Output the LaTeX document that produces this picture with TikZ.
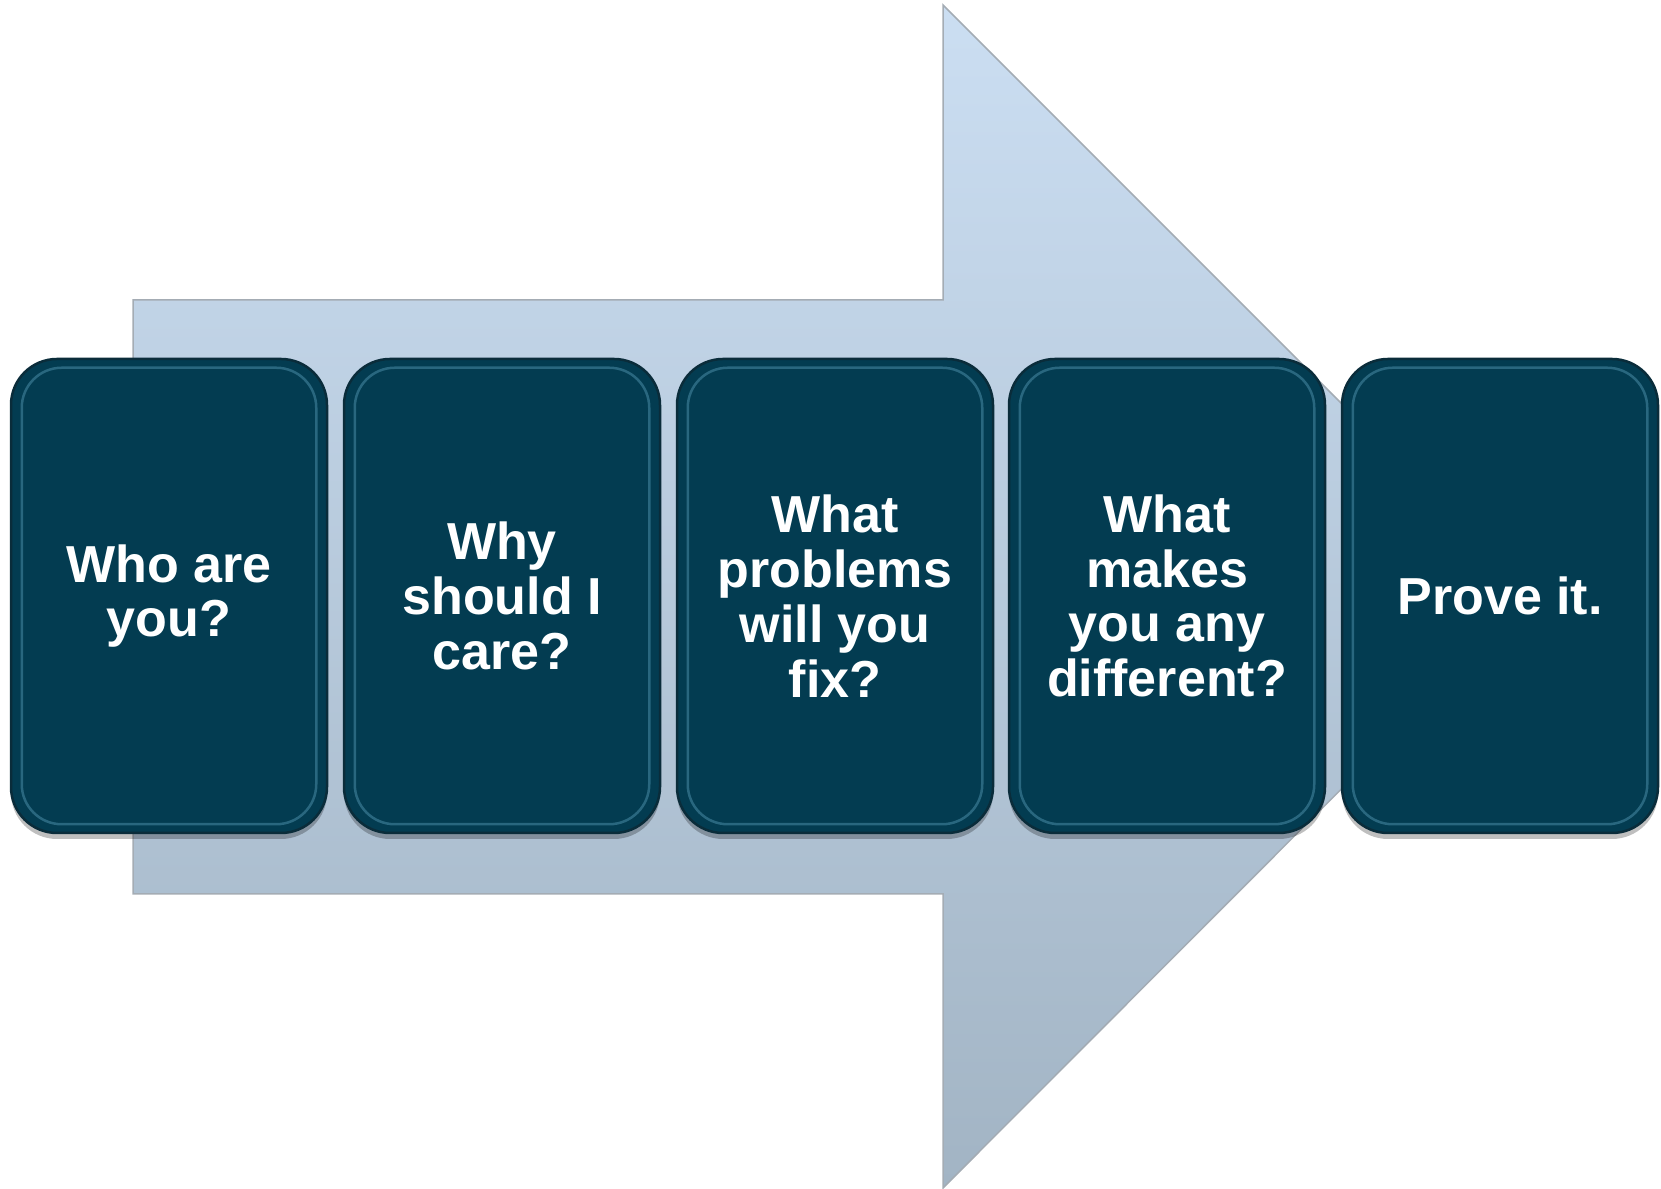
\documentclass[tikz,border=0pt]{standalone}
\usepackage{fontspec}
\setmainfont{Liberation Sans}
\usepackage{tikz}
\usetikzlibrary{shadows}
\usetikzlibrary{calc}
\definecolor{flechehaut}{HTML}{CBDEF2}
\definecolor{flechebas}{HTML}{A2B4C4}
\definecolor{flechebord}{HTML}{A4ACB4}
\definecolor{boite}{HTML}{033C51}
\definecolor{boitebord}{HTML}{0A2C3A}
\definecolor{reflet}{HTML}{4F93AE}
\tikzstyle{fleche}=[
        draw=flechebord,
        line width=0.15mm,
        top color=flechehaut,
        bottom color=flechebas
]
\tikzstyle{etape}=[
        rectangle,
        rounded corners=4.6mm,
        minimum width=31.6mm,
        minimum height=47.4mm,
        fill=boite,
        draw=boitebord,
        line width=0.25mm,
        text=white,
        align=center,
        font=\fontsize{14.8}{15.6}\selectfont\bfseries,
        drop shadow={shadow xshift=0mm,shadow yshift=-0.6mm,opacity=0.25,fill=black}
]
\tikzstyle{biseau}=[draw=reflet,line width=0.25mm,rounded corners=4mm,opacity=0.5]

\begin{document}
\begin{tikzpicture}[x=0.1mm,y=0.1mm]
\useasboundingbox (0,0) rectangle (1661,1189);
%la grande fleche
\path[fleche] (133,295) -- (133,889) -- (943,889) -- (943,1184)
        -- (1534,593) -- (943,1) -- (943,295) -- cycle;
%les etapes
\node[etape] (who) at (169,593) {Who are\\you?};
\node[etape] (why) at (502,593) {Why\\should I\\care?};
\node[etape] (what) at (835,593) {What\\problems\\will you\\fix?};
\node[etape] (diff) at (1167,593) {What\\makes\\you any\\different?};
\node[etape] (prove) at (1500,593) {Prove it.};
%reflets
\foreach \n in {who,why,what,diff,prove}
  \draw[biseau] ($(\n.north west)+(12,-10)$) rectangle ($(\n.south east)+(-12,10)$);
\end{tikzpicture}
\end{document}
